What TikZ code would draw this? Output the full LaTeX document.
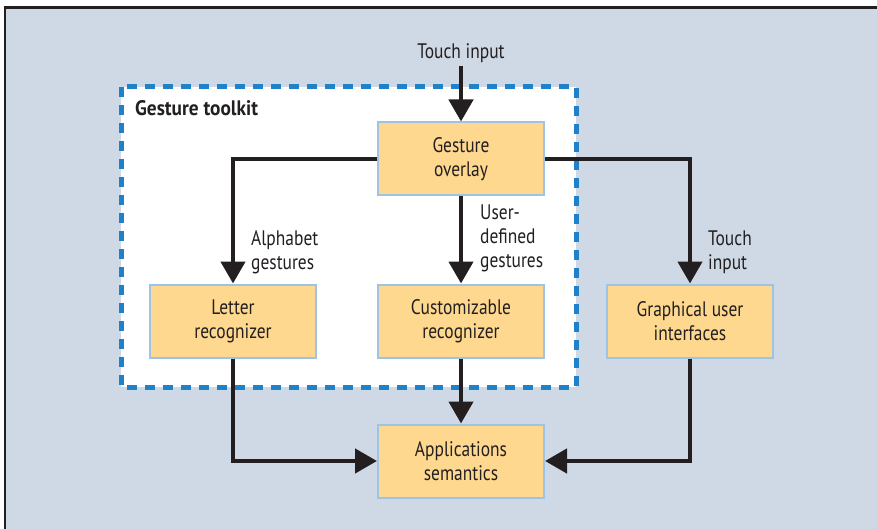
\documentclass[tikz,border=0pt]{standalone}
\usepackage{fontspec}
\setmainfont[FakeStretch=0.83, BoldFeatures={FakeStretch=0.92}]{PT Sans}
\usetikzlibrary{arrows.meta}
\definecolor{bgc}{RGB}{207,217,229}
\definecolor{boxfill}{RGB}{253,216,142}
\definecolor{boxline}{RGB}{157,195,230}
\definecolor{dashc}{RGB}{31,130,200}
\definecolor{arrowc}{RGB}{35,31,32}
\newcommand{\fs}{\fontsize{21}{24}\selectfont}
\begin{document}
\begin{tikzpicture}[x=1pt,y=-1pt,
  box/.style={draw=boxline, line width=2pt, fill=boxfill, minimum width=166pt, minimum height=73pt, align=center, inner sep=0pt, font=\fs, text=arrowc},
  arr/.style={draw=arrowc, line width=4.5pt, -{Triangle[width=24pt,length=22pt]}},
  lbl/.style={align=left, inner sep=0pt, font=\fs, anchor=west, text=arrowc}]
\useasboundingbox (0,0) rectangle (877,529);
\fill[white] (0,0) rectangle (877,529);
\fill[bgc] (5,8) rectangle (877,529);
\draw[arrowc, line width=2.5pt] (4,7.5) -- (877,7.5);
\draw[arrowc, line width=2pt] (5,7) -- (5,529);
\draw[dashc, line width=5pt, dash pattern=on 10pt off 8pt, fill=white] (121,87) rectangle (576,387);
\node[anchor=west, inner sep=0pt, font=\fs\bfseries, text=arrowc] (gt) at (135,108) {Gesture toolkit};

\node[inner sep=0pt, font=\fs, text=arrowc] (ti) at (461,53) {Touch input};
\node[box] (ov) at (461,159) {Gesture\\overlay};
\node[box] (lr) at (233,321) {Letter\\recognizer};
\node[box] (cr) at (461,321) {Customizable\\recognizer};
\node[box] (gui) at (690,321) {Graphical user\\interfaces};
\node[box] (ap) at (461,461) {Applications\\semantics};

\node[lbl] (la) at (251,252) {Alphabet\\gestures};
\node[lbl] (lu) at (480,238) {User-\\defined\\gestures};
\node[lbl] (lt) at (708,252) {Touch\\input};

\draw[arr] (ti.south) ++(0,-3pt) -- (ov.north);
\draw[arr] (ov.west) -| (lr.north);
\draw[arr] (ov.south) -- (cr.north);
\draw[arr] (ov.east) -| (gui.north);
\draw[arr] (lr.south) |- (ap.west);
\draw[arr] (cr.south) -- (ap.north);
\draw[arr] (gui.south) |- (ap.east);
\end{tikzpicture}
\end{document}
